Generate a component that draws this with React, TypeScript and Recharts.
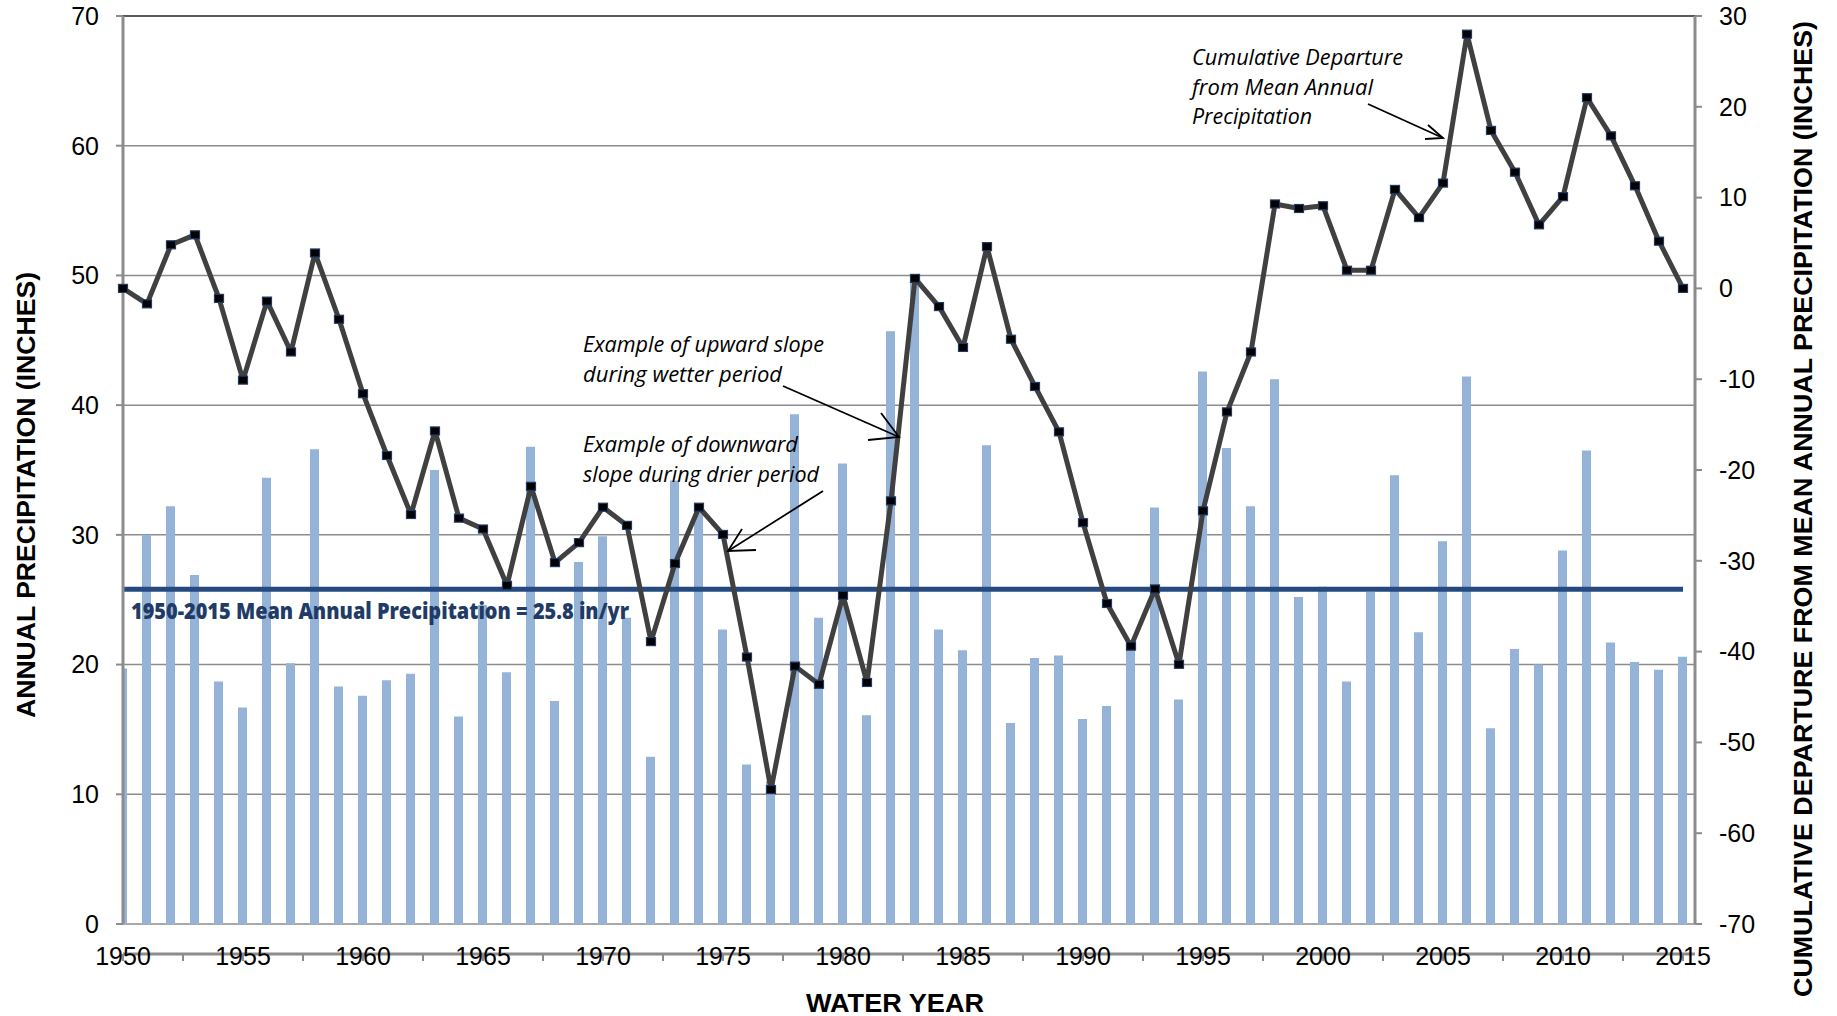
import React from "react";
import {
  Bar,
  CartesianGrid,
  ComposedChart,
  Line,
  ReferenceLine,
  XAxis,
  YAxis,
} from "recharts";

const YEARS = [
  1950, 1951, 1952, 1953, 1954, 1955, 1956, 1957, 1958, 1959,
  1960, 1961, 1962, 1963, 1964, 1965, 1966, 1967, 1968, 1969,
  1970, 1971, 1972, 1973, 1974, 1975, 1976, 1977, 1978, 1979,
  1980, 1981, 1982, 1983, 1984, 1985, 1986, 1987, 1988, 1989,
  1990, 1991, 1992, 1993, 1994, 1995, 1996, 1997, 1998, 1999,
  2000, 2001, 2002, 2003, 2004, 2005, 2006, 2007, 2008, 2009,
  2010, 2011, 2012, 2013, 2014, 2015,
];

// annual precipitation, inches (left axis)
const PRECIP = [
  19.7, 30.0, 32.2, 26.9, 18.7, 16.7, 34.4, 20.1, 36.6, 18.3,
  17.6, 18.8, 19.3, 35.0, 16.0, 24.6, 19.4, 36.8, 17.2, 27.9,
  29.9, 23.6, 12.9, 34.2, 32.0, 22.7, 12.3, 11.0, 39.3, 23.6,
  35.5, 16.1, 45.7, 50.0, 22.7, 21.1, 36.9, 15.5, 20.5, 20.7,
  15.8, 16.8, 21.2, 32.1, 17.3, 42.6, 36.7, 32.2, 42.0, 25.2,
  26.0, 18.7, 25.6, 34.6, 22.5, 29.5, 42.2, 15.1, 21.2, 20.0,
  28.8, 36.5, 21.7, 20.2, 19.6, 20.6,
];

// cumulative departure from mean, inches (right axis)
const DEPARTURE = [
  0.0, -1.7, 4.8, 5.9, -1.1, -10.1, -1.4, -7.0, 3.9, -3.4,
  -11.6, -18.4, -24.9, -15.7, -25.3, -26.5, -32.7, -21.8, -30.2, -28.0,
  -24.1, -26.1, -38.9, -30.3, -24.1, -27.1, -40.6, -55.2, -41.6, -43.6,
  -33.8, -43.4, -23.4, 1.1, -2.0, -6.5, 4.6, -5.6, -10.8, -15.8,
  -25.8, -34.7, -39.4, -33.1, -41.4, -24.5, -13.6, -7.0, 9.3, 8.8,
  9.1, 2.0, 2.0, 10.9, 7.8, 11.6, 28.0, 17.4, 12.8, 7.0,
  10.1, 21.0, 16.8, 11.3, 5.2, 0.0,
];

const MEAN_PRECIP = 25.8;

const LEFT_TICKS = [0, 10, 20, 30, 40, 50, 60, 70];
const RIGHT_TICKS = [-70, -60, -50, -40, -30, -20, -10, 0, 10, 20, 30];
const YEAR_TICKS = [
  1950, 1952.5, 1955, 1957.5, 1960, 1962.5, 1965, 1967.5, 1970, 1972.5,
  1975, 1977.5, 1980, 1982.5, 1985, 1987.5, 1990, 1992.5, 1995, 1997.5,
  2000, 2002.5, 2005, 2007.5, 2010, 2012.5, 2015,
];
const YEAR_LABELS = [
  1950, 1955, 1960, 1965, 1970, 1975, 1980, 1985, 1990, 1995, 2000, 2005, 2010, 2015,
];

const rows = YEARS.map((year, i) => ({
  year,
  precip: PRECIP[i],
  departure: DEPARTURE[i],
  mean: MEAN_PRECIP,
}));

const GRID = "#8C8C8C";
const BAR = "#95B3D7";
const NAVY = "#254A80";
const PLOT_BOTTOM = 924;

function YearTick(props: any) {
  const { x, payload } = props;
  if (!YEAR_LABELS.includes(payload.value)) return <g />;
  // label centred ~32px under the axis line
  return (
    <text
      x={x}
      y={PLOT_BOTTOM + 32}
      textAnchor="middle"
      dominantBaseline="central"
      fontSize={25}
      fill="#000"
    >
      {payload.value}
    </text>
  );
}

function SquareDot(props: any) {
  const { cx, cy, index } = props;
  if (cx == null || cy == null) return <g key={`d${index}`} />;
  return (
    <rect
      key={`d${index}`}
      x={cx - 4.5}
      y={cy - 4}
      width={9}
      height={8}
      fill="#000"
      stroke="#1F3864"
      strokeWidth={1.2}
    />
  );
}

function Notes() {
  const note = { fontFamily: "'Open Sans', sans-serif", fontStyle: "italic", fontSize: 21, fill: "#000" };
  const title = { fontFamily: "'Liberation Sans', Arial, sans-serif", fontWeight: 700, fontSize: 25, fill: "#000" };
  return (
    <svg
      width={1837}
      height={1016}
      style={{ position: "absolute", left: 0, top: 0, pointerEvents: "none" }}
    >
      {/* axis titles */}
      <text
        {...title}
        x={0}
        y={0}
        transform="translate(26 495) rotate(-90)"
        textAnchor="middle"
        dominantBaseline="central"
        textLength={446}
        lengthAdjust="spacingAndGlyphs"
      >
        ANNUAL PRECIPITATION (INCHES)
      </text>
      <text
        {...title}
        x={0}
        y={0}
        transform="translate(1803 509) rotate(-90)"
        textAnchor="middle"
        dominantBaseline="central"
        textLength={976}
        lengthAdjust="spacingAndGlyphs"
      >
        CUMULATIVE DEPARTURE FROM MEAN ANNUAL PRECIPITATION (INCHES)
      </text>
      <text
        {...title}
        x={895}
        y={1003}
        textAnchor="middle"
        dominantBaseline="central"
        textLength={178}
        lengthAdjust="spacingAndGlyphs"
      >
        WATER YEAR
      </text>

      {/* mean line label */}
      <text
        x={131}
        y={619}
        fontFamily="'Open Sans', sans-serif"
        fontWeight={800}
        fontSize={22}
        fill="#1F3B66"
        textLength={498}
        lengthAdjust="spacingAndGlyphs"
      >
        1950-2015 Mean Annual Precipitation = 25.8 in/yr
      </text>

      {/* cumulative departure note */}
      <text {...note} x={1192} y={65} textLength={211} lengthAdjust="spacingAndGlyphs">
        Cumulative Departure
      </text>
      <text {...note} x={1192} y={95} textLength={181} lengthAdjust="spacingAndGlyphs">
        from Mean Annual
      </text>
      <text {...note} x={1192} y={124} textLength={120} lengthAdjust="spacingAndGlyphs">
        Precipitation
      </text>
      <g stroke="#000" strokeWidth={1.8} fill="none">
        <line x1={1368} y1={104} x2={1443} y2={138} />
        <polyline points="1428,125 1443,138 1425,139" />
      </g>

      {/* upward slope note */}
      <text {...note} x={583} y={352} textLength={241} lengthAdjust="spacingAndGlyphs">
        Example of upward slope
      </text>
      <text {...note} x={583} y={382} textLength={199} lengthAdjust="spacingAndGlyphs">
        during wetter period
      </text>
      <g stroke="#000" strokeWidth={1.8} fill="none">
        <line x1={783} y1={386} x2={899} y2={437} />
        <polyline points="881,413 899,437 868,440" />
      </g>

      {/* downward slope note */}
      <text {...note} x={583} y={452} textLength={215} lengthAdjust="spacingAndGlyphs">
        Example of downward
      </text>
      <text {...note} x={583} y={482} textLength={236} lengthAdjust="spacingAndGlyphs">
        slope during drier period
      </text>
      <g stroke="#000" strokeWidth={1.8} fill="none">
        <line x1={823} y1={491} x2={728} y2={551} />
        <polyline points="742,529 728,551 756,550" />
      </g>
    </svg>
  );
}

export default function App() {
  return (
    <div
      style={{
        position: "absolute",
        left: 0,
        top: 0,
        width: 1837,
        height: 1016,
        background: "#fff",
        fontFamily: "'Liberation Sans', Arial, sans-serif",
      }}
    >
      <ComposedChart
        width={1837}
        height={1016}
        data={rows}
        margin={{ top: 16, right: 52, bottom: 32, left: 43 }}
      >
        <CartesianGrid yAxisId="left" xAxisId="yr" vertical={false} stroke={GRID} strokeWidth={1.5} />
        <XAxis
          xAxisId="yr"
          dataKey="year"
          type="number"
          domain={[1950, 2015.5]}
          ticks={YEAR_TICKS}
          interval={0}
          height={60}
          tickSize={7}
          tickMargin={16}
          axisLine={{ stroke: GRID, strokeWidth: 3 }}
          tickLine={{ stroke: GRID, strokeWidth: 2 }}
          tick={<YearTick />}
        />
        <XAxis
          xAxisId="bars"
          dataKey="year"
          type="number"
          domain={[1950, 2015.5]}
          allowDataOverflow
          hide
        />
        <YAxis
          yAxisId="left"
          domain={[0, 70]}
          ticks={LEFT_TICKS}
          interval={0}
          width={80}
          tickSize={7}
          tickMargin={17}
          axisLine={{ stroke: GRID, strokeWidth: 3 }}
          tickLine={{ stroke: GRID, strokeWidth: 2 }}
          tick={{ fontSize: 25, fill: "#000" }}
        />
        <YAxis
          yAxisId="right"
          orientation="right"
          domain={[-70, 30]}
          ticks={RIGHT_TICKS}
          interval={0}
          width={90}
          tickSize={7}
          tickMargin={17}
          axisLine={{ stroke: GRID, strokeWidth: 3 }}
          tickLine={{ stroke: GRID, strokeWidth: 2 }}
          tick={{ fontSize: 25, fill: "#000" }}
        />
        <ReferenceLine yAxisId="left" xAxisId="yr" y={70} stroke="#404040" strokeWidth={1.5} />
        <Bar
          xAxisId="bars"
          yAxisId="left"
          dataKey="precip"
          fill={BAR}
          barSize={9}
          isAnimationActive={false}
        />
        <Line
          xAxisId="yr"
          yAxisId="left"
          dataKey="mean"
          stroke={NAVY}
          strokeWidth={5}
          dot={false}
          activeDot={false}
          isAnimationActive={false}
        />
        <Line
          xAxisId="yr"
          yAxisId="right"
          dataKey="departure"
          stroke="#404040"
          strokeWidth={5}
          strokeLinejoin="round"
          dot={SquareDot}
          activeDot={false}
          isAnimationActive={false}
        />
      </ComposedChart>
      <Notes />
    </div>
  );
}
